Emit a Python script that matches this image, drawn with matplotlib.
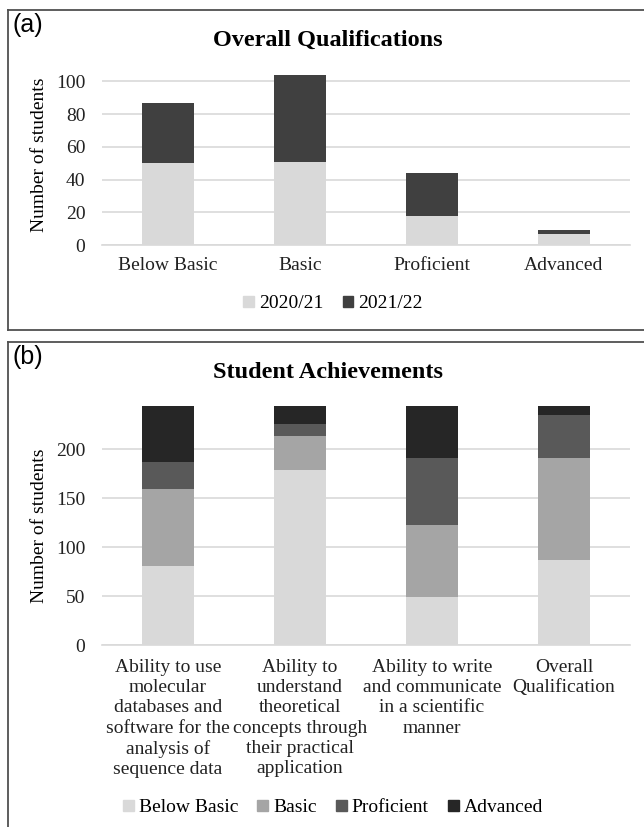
import numpy as np
import matplotlib.pyplot as plt
from matplotlib.lines import Line2D
from matplotlib.patches import Patch

plt.rcParams['font.family'] = 'Liberation Serif'

# (a) overall qualification counts per cohort
levels = ['Below Basic', 'Basic', 'Proficient', 'Advanced']
cohorts = ['2020/21', '2021/22']
cohort_2020 = [50, 51, 18, 7]
cohort_2021 = [37, 53, 26, 2]

# (b) achievement level per competence, both cohorts together
competences = ['Ability to use\nmolecular\ndatabases and\nsoftware for the\nanalysis of\nsequence data',
               'Ability to\nunderstand\ntheoretical\nconcepts through\ntheir practical\napplication',
               'Ability to write\nand communicate\nin a scientific\nmanner',
               'Overall\nQualification']
below_basic = [81, 179, 49, 87]
basic = [78, 34, 74, 104]
proficient = [28, 13, 68, 44]
advanced = [57, 18, 53, 9]

W, H = 644, 827
fig = plt.figure(figsize=(W / 100, H / 100), dpi=100)


def fx(px):
    return px / W


def fy(py):
    return 1 - py / H


def style_axes(ax, ticks):
    for s in ['top', 'right', 'left']:
        ax.spines[s].set_visible(False)
    ax.spines['bottom'].set_color('#d9d9d9')
    ax.spines['bottom'].set_linewidth(1.2)
    ax.set_yticks(ticks)
    ax.yaxis.grid(True, color='#d9d9d9', linewidth=1.2)
    ax.set_axisbelow(True)
    ax.tick_params(length=0, labelsize=14, colors='#222222')
    ax.tick_params(axis='y', pad=12)
    ax.set_xlim(-0.5, 3.5)


x = np.arange(4)
width = 0.4

# panel (a)
ax1 = fig.add_axes([fx(102), fy(245), fx(528), (245 - 65) / H])
ax1.bar(x, cohort_2020, width, color='#d9d9d9', label=cohorts[0])
ax1.bar(x, cohort_2021, width, bottom=cohort_2020, color='#404040', label=cohorts[1])
ax1.set_ylim(0, 110)
style_axes(ax1, [0, 20, 40, 60, 80, 100])
ax1.set_xticks(x, levels)
ax1.tick_params(axis='x', pad=9)
ax1.set_ylabel('Number of students', fontsize=14, labelpad=6)

# panel (b)
ax2 = fig.add_axes([fx(102), fy(645), fx(528), (645 - 406) / H])
stack = [below_basic, basic, proficient, advanced]
colors = ['#d9d9d9', '#a5a5a5', '#595959', '#262626']
bottom = np.zeros(4)
for vals, c, name in zip(stack, colors, levels):
    ax2.bar(x, vals, width, bottom=bottom, color=c, label=name)
    bottom += np.array(vals)
ax2.set_ylim(0, 244)
style_axes(ax2, [0, 50, 100, 150, 200])
ax2.set_xticks(x, competences)
for lbl in ax2.get_xticklabels():
    lbl.set_linespacing(1.25)
ax2.tick_params(axis='x', pad=10)
ax2.set_ylabel('Number of students', fontsize=14, labelpad=6)

# titles and panel letters
fig.text(fx(328), fy(40), 'Overall Qualifications', ha='center', va='center',
         fontsize=17.5, fontweight='bold')
fig.text(fx(328), fy(372), 'Student Achievements', ha='center', va='center',
         fontsize=17.5, fontweight='bold')
fig.text(fx(12), fy(25), '(a)', ha='left', va='center', fontsize=18,
         family='Liberation Sans')
fig.text(fx(12), fy(357), '(b)', ha='left', va='center', fontsize=18,
         family='Liberation Sans')

# legends
leg_kw = dict(loc='center', ncol=4, frameon=False, fontsize=14, handlelength=0.55,
              handleheight=0.55, handletextpad=0.25, columnspacing=1.0)
ha = [Patch(color=c) for c in ['#d9d9d9', '#404040']]
fig.legend(ha, cohorts, bbox_to_anchor=(fx(333), fy(304)), **leg_kw)
hb = [Patch(color=c) for c in colors]
fig.legend(hb, levels, bbox_to_anchor=(fx(333), fy(808)), **leg_kw)

# panel frames
frame = dict(color='#505050', linewidth=1.3, transform=fig.transFigure)
fig.add_artist(Line2D([fx(8), 1], [fy(10), fy(10)], **frame))
fig.add_artist(Line2D([fx(8), fx(8)], [fy(10), fy(330)], **frame))
fig.add_artist(Line2D([fx(8), 1], [fy(330), fy(330)], **frame))
fig.add_artist(Line2D([fx(8), 1], [fy(342), fy(342)], **frame))
fig.add_artist(Line2D([fx(8), fx(8)], [fy(342), 0], **frame))

fig.savefig('out.png', dpi=100)
